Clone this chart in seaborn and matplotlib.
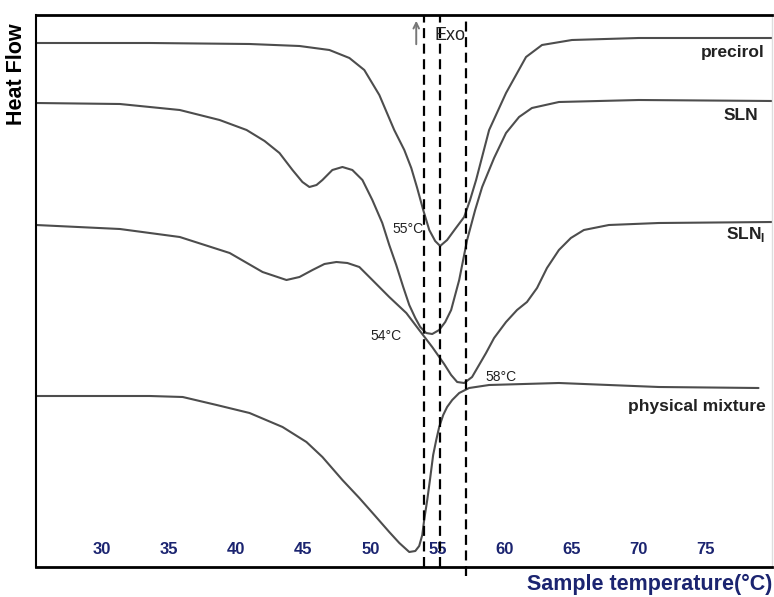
import matplotlib
matplotlib.use("Agg")
import matplotlib.pyplot as plt
import seaborn as sns
import pandas as pd

# DSC thermograms (temperature in °C, heat flow in arbitrary units, curves offset)
precirol_t = [25.09, 33.57, 41.00, 44.72, 46.95, 48.44, 49.55, 50.67, 51.78, 52.53,
              53.05, 53.49, 53.94, 54.39, 54.83, 55.20, 55.72, 56.32, 56.99, 57.43,
              57.88, 58.85, 60.11, 61.60, 62.79, 65.02, 70.00, 79.96]
precirol_hf = [52.4, 52.4, 52.3, 52.1, 51.7, 50.9, 49.7, 47.2, 43.7, 41.7,
               39.9, 37.9, 35.7, 33.7, 32.6, 32.1, 32.7, 33.8, 35.0, 36.7,
               38.7, 43.7, 47.4, 51.0, 52.2, 52.7, 52.9, 52.9]

sln_t = [25.09, 31.34, 35.80, 38.77, 40.78, 42.12, 43.23, 44.20, 44.94, 45.46,
         45.99, 46.43, 47.17, 47.92, 48.66, 49.41, 50.15, 50.89, 51.41, 51.93,
         52.45, 52.90, 53.35, 53.72, 54.16, 54.61, 55.13, 55.58, 56.02, 56.62,
         57.21, 57.81, 58.33, 59.22, 60.11, 61.08, 62.04, 64.05, 70.00, 79.96]
sln_hf = [46.4, 46.3, 45.7, 44.7, 43.7, 42.6, 41.4, 39.7, 38.5, 38.0,
          38.2, 38.7, 39.7, 40.0, 39.7, 38.7, 36.7, 34.4, 32.2, 30.2,
          28.0, 26.2, 24.9, 24.0, 23.4, 23.3, 23.7, 24.5, 25.7, 28.7,
          32.7, 35.7, 38.0, 40.9, 43.4, 45.0, 45.9, 46.5, 46.7, 46.6]

slni_t = [25.09, 31.34, 35.80, 39.52, 41.97, 43.75, 44.72, 45.69, 46.58, 47.47,
          48.29, 49.18, 50.15, 51.41, 52.68, 53.64, 54.61, 55.50, 56.02, 56.47,
          56.99, 57.58, 58.10, 58.62, 59.22, 60.11, 60.93, 61.67, 62.42, 63.16,
          64.05, 64.94, 65.91, 67.77, 71.49, 79.96]
slni_hf = [34.2, 33.8, 33.0, 31.4, 29.5, 28.7, 29.0, 29.7, 30.3, 30.5,
           30.4, 30.0, 28.7, 27.0, 25.4, 23.7, 22.0, 20.3, 19.2, 18.5,
           18.4, 19.0, 20.2, 21.4, 22.9, 24.5, 25.7, 26.5, 27.9, 29.9,
           31.7, 32.9, 33.7, 34.2, 34.4, 34.5]

mix_t = [25.09, 31.34, 33.57, 36.02, 38.55, 41.00, 43.46, 45.24, 46.43, 47.92,
         49.18, 50.30, 51.41, 52.16, 52.90, 53.35, 53.64, 53.87, 54.01, 54.24,
         54.46, 54.68, 54.91, 55.13, 55.43, 55.72, 56.10, 56.62, 57.36, 58.85,
         64.05, 71.49, 78.92]
mix_hf = [17.1, 17.1, 17.1, 17.0, 16.2, 15.4, 14.0, 12.5, 11.0, 8.7,
          6.9, 5.2, 3.5, 2.4, 1.5, 1.6, 2.1, 3.2, 4.7, 6.7,
          8.9, 11.2, 12.7, 14.0, 15.2, 16.0, 16.7, 17.4, 17.9, 18.2,
          18.4, 18.0, 17.9]

curve_names = ["precirol", "SLN", "SLN$_\\mathregular{I}$", "physical mixture"]
curve_label_pos = [(79.4, 51.5), (78.9, 45.2), (79.4, 33.3), (79.45, 16.1)]

peak_labels = ["55°C", "54°C", "58°C"]
peak_label_pos = [(54.0, 33.8), (52.3, 23.1), (58.6, 19.0)]

dashed_t = [54.0, 55.2, 57.1]
dashed_bottom = [0.0, 0.0, -0.9]

xticks = [30, 35, 40, 45, 50, 55, 60, 65, 70, 75]

navy = "#1b2470"
curve_color = "#4d4d4d"

sns.set_style("white")
plt.rcParams["font.family"] = ["Liberation Sans", "DejaVu Sans"]

fig = plt.figure(figsize=(7.74, 5.97), dpi=100)
ax = fig.add_axes([36 / 774, 30 / 597, 1 - 36 / 774 - 0.002, 552 / 597])

curves = [(precirol_t, precirol_hf), (sln_t, sln_hf), (slni_t, slni_hf), (mix_t, mix_hf)]
for (t, hf), name in zip(curves, curve_names):
    df = pd.DataFrame({"t": t, "hf": hf})
    sns.lineplot(data=df, x="t", y="hf", ax=ax, color=curve_color,
                 linewidth=1.5, estimator=None, sort=False)

for name, (x, y) in zip(curve_names, curve_label_pos):
    ax.text(x, y, name, ha="right", va="center", fontsize=12.5,
            fontweight="bold", color="#222222")

for lab, (x, y) in zip(peak_labels, peak_label_pos):
    ha = "left" if lab == "58°C" else "right"
    ax.text(x, y, lab, ha=ha, va="center", fontsize=10, color="#222222")

ax.set_xlim(25.09, 79.96)
ax.set_ylim(0, 55.2)

for x, y0 in zip(dashed_t, dashed_bottom):
    ax.vlines(x, y0, 55.2, colors="black", linestyles=(0, (4.5, 2.5)),
              linewidth=1.6, clip_on=False, zorder=3)

# Exo arrow
ax.annotate("", xy=(53.42, 54.9), xytext=(53.42, 52.0),
            arrowprops=dict(arrowstyle="->", color="#777777", lw=1.4))
ax.text(55.9, 53.2, "Exo", ha="center", va="center", fontsize=13, color="#222222")

ax.set_xticks(xticks)
ax.set_xticklabels([str(v) for v in xticks])
ax.set_yticks([])
ax.tick_params(axis="x", direction="in", length=5, width=1, colors=navy,
               pad=-18, labelsize=12)
for lab in ax.get_xticklabels():
    lab.set_fontweight("bold")

ax.set_xlabel("Sample temperature(°C)", loc="right", fontsize=15.5,
              fontweight="bold", color=navy, labelpad=5)
ax.set_ylabel("Heat Flow", loc="top", fontsize=15.5, fontweight="bold",
              color="black")
ax.yaxis.set_label_coords(-0.012, 0.985)

ax.spines["top"].set_linewidth(2)
ax.spines["bottom"].set_linewidth(2)
ax.spines["left"].set_linewidth(1.5)
for s in ["top", "bottom", "left"]:
    ax.spines[s].set_color("black")
ax.spines["right"].set_color("#dddddd")
ax.spines["right"].set_linewidth(1)

fig.savefig("out.png", dpi=100)
